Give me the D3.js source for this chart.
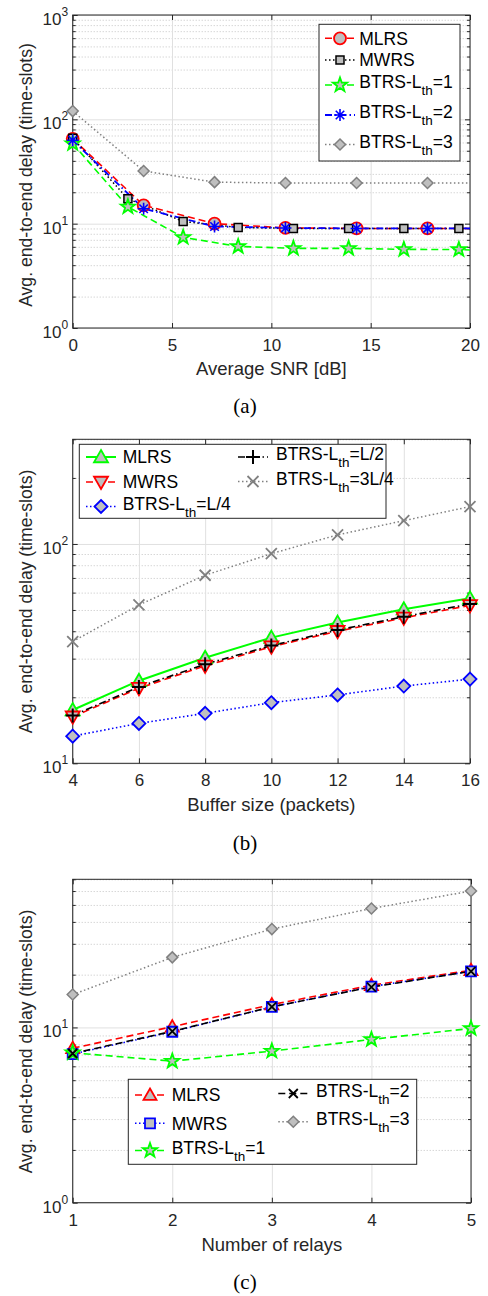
<!DOCTYPE html>
<html>
<head>
<meta charset="utf-8">
<script src="https://cdn.jsdelivr.net/npm/d3@7"></script>
<style>
  body { margin: 0; background: #fff; }
  svg { display: block; font-family: "Liberation Sans", Arial, sans-serif; }
</style>
</head>
<body>
<script>
// ---- data, panel (a): delay vs. average SNR
var snrCoarse = [0, 3.57, 7.14, 10.71, 14.29, 17.86, 20];
var snrFine = [0, 2.78, 5.56, 8.33, 11.11, 13.89, 16.67, 19.44, 20];
var aMLRS = [65, 15, 10, 9.1, 9.0, 9.0, 9.0];
var aMWRS = [66, 17.3, 10.5, 9.2, 9.0, 9.0, 9.0, 9.0, 9.0];
var aBTRS1 = [58.6, 14.5, 7.4, 6.05, 5.8, 5.8, 5.67, 5.65, 5.6];
var aBTRS2 = [63, 13.9, 9.4, 9.1, 9.0, 9.0, 9.0];
var aBTRS3 = [120, 32, 25, 24.5, 24.5, 24.5, 24.5];

// ---- data, panel (b): delay vs. buffer size
var bufSize = [4, 6, 8, 10, 12, 14, 16];
var bMLRS = [17.5, 23.8, 30.3, 37.4, 43.8, 50.4, 56.5];
var bMWRS = [16.3, 22.0, 27.8, 34.0, 40.0, 46.0, 52.5];
var bL4 = [13.3, 15.2, 16.9, 18.9, 20.5, 22.5, 24.2];
var bL2 = [16.5, 22.3, 28.3, 34.4, 40.5, 46.6, 53.3];
var b3L4 = [35.9, 52.7, 72, 90.3, 110, 127.7, 148];

// ---- data, panel (c): delay vs. number of relays
var relays = [1, 2, 3, 4, 5];
var cMLRS = [7.6, 10.1, 13.5, 17.4, 21.2];
var cMWRS = [7.05, 9.45, 13.1, 17.1, 20.9];
var cBTRS1 = [7.17, 6.42, 7.33, 8.54, 9.87];
var cBTRS2 = [7.1, 9.5, 13.1, 17.0, 20.9];
var cBTRS3 = [15.4, 25.1, 36.4, 47.7, 60];

var snrTicks = [0, 5, 10, 15, 20];
var bufTicks = [4, 6, 8, 10, 12, 14, 16];
var relayTicks = [1, 2, 3, 4, 5];

var yTitle = "Avg. end-to-end delay (time-slots)";

var FACE = "#bfbfbf";
var DASH = "7,4", DOT = "1.5,2.5", DASHDOT = "7,3,1.5,3";

var svg = d3.select("body").append("svg").attr("width", 488).attr("height", 1296);

function zip(xs, ys) { return xs.map(function(v, i) { return [v, ys[i]]; }); }

function markerPath(type, s) {
  var p = d3.path();
  if (type == "square") { p.rect(-s, -s, 2 * s, 2 * s); }
  else if (type == "diamond") { p.moveTo(0, -s); p.lineTo(s, 0); p.lineTo(0, s); p.lineTo(-s, 0); p.closePath(); }
  else if (type == "triUp") { p.moveTo(0, -s); p.lineTo(s, s * 0.75); p.lineTo(-s, s * 0.75); p.closePath(); }
  else if (type == "triDown") { p.moveTo(0, s); p.lineTo(s, -s * 0.75); p.lineTo(-s, -s * 0.75); p.closePath(); }
  else if (type == "star") {
    for (var i = 0; i < 10; i++) {
      var a = -Math.PI / 2 + i * Math.PI / 5, r = i % 2 ? s * 0.4 : s;
      if (i == 0) p.moveTo(r * Math.cos(a), r * Math.sin(a)); else p.lineTo(r * Math.cos(a), r * Math.sin(a));
    }
    p.closePath();
  }
  else if (type == "plus") { p.moveTo(-s, 0); p.lineTo(s, 0); p.moveTo(0, -s); p.lineTo(0, s); }
  else if (type == "cross") { p.moveTo(-s, -s); p.lineTo(s, s); p.moveTo(-s, s); p.lineTo(s, -s); }
  else if (type == "asterisk") {
    var d = s * 0.7071;
    p.moveTo(-s, 0); p.lineTo(s, 0); p.moveTo(0, -s); p.lineTo(0, s);
    p.moveTo(-d, -d); p.lineTo(d, d); p.moveTo(-d, d); p.lineTo(d, -d);
  }
  return p.toString();
}

function drawMarker(g, s, cx, cy) {
  if (s.marker == "circle") {
    g.append("circle").attr("cx", cx).attr("cy", cy).attr("r", s.size)
      .attr("fill", FACE).attr("stroke", s.color).attr("stroke-width", s.mw);
    return;
  }
  var open = s.marker == "plus" || s.marker == "cross" || s.marker == "asterisk";
  g.append("path").attr("transform", "translate(" + cx + "," + cy + ")")
    .attr("d", markerPath(s.marker, s.size))
    .attr("fill", open ? "none" : FACE)
    .attr("stroke", s.color).attr("stroke-width", s.mw);
}

function addLabel(sel, label, size) {
  // "BTRS-L_th=1" -> BTRS-L, subscript th, =1
  var parts = label.split("_th");
  sel.append("tspan").text(parts[0]);
  if (parts.length > 1) {
    sel.append("tspan").attr("dy", 7).attr("font-size", 13.5).text("th");
    sel.append("tspan").attr("dy", -7).attr("font-size", size).text(parts[1]);
  }
}

function drawPanel(p) {
  var x = d3.scaleLinear().domain(p.xDomain).range([p.left, p.right]);
  var y = d3.scaleLog().domain(p.yDomain).range([p.bottom, p.top]);
  var h = p.bottom - p.top, w = p.right - p.left;
  var g = svg.append("g");

  var lo = Math.floor(Math.log10(p.yDomain[0])), hi = Math.ceil(Math.log10(p.yDomain[1]));
  var major = [], minor = [];
  for (var e = lo; e <= hi; e++) {
    var d = Math.pow(10, e);
    if (d >= p.yDomain[0] && d <= p.yDomain[1]) major.push(d);
    for (var k = 2; k <= 9; k++) {
      if (k * d > p.yDomain[0] && k * d <= p.yDomain[1] + 1e-9) minor.push(k * d);
    }
  }

  // grid
  var gMinor = g.append("g").attr("transform", "translate(" + p.left + ",0)")
    .call(d3.axisLeft(y).tickValues(minor).tickSize(-w).tickFormat(""));
  gMinor.selectAll("line").attr("stroke", "#c4c4c4").attr("stroke-dasharray", "1,2");
  var gMajY = g.append("g").attr("transform", "translate(" + p.left + ",0)")
    .call(d3.axisLeft(y).tickValues(major).tickSize(-w).tickFormat(""));
  gMajY.selectAll("line").attr("stroke", "#e0e0e0");
  var gMajX = g.append("g").attr("transform", "translate(0," + p.bottom + ")")
    .call(d3.axisBottom(x).tickValues(p.xTicks).tickSize(-h).tickFormat(""));
  gMajX.selectAll("line").attr("stroke", "#e0e0e0");
  g.selectAll(".domain").remove();

  // box
  g.append("rect").attr("x", p.left).attr("y", p.top).attr("width", w).attr("height", h)
    .attr("fill", "none").attr("stroke", "#262626").attr("stroke-width", 1);

  // ticks (inside)
  var tickAxes = [
    [d3.axisBottom(x).tickValues(p.xTicks).tickSize(-5).tickPadding(11).tickFormat(d3.format("d")), "translate(0," + p.bottom + ")", true],
    [d3.axisTop(x).tickValues(p.xTicks).tickSize(-5).tickFormat(""), "translate(0," + p.top + ")", false],
    [d3.axisLeft(y).tickValues(major).tickSize(-5).tickFormat(""), "translate(" + p.left + ",0)", false],
    [d3.axisRight(y).tickValues(major).tickSize(-5).tickFormat(""), "translate(" + p.right + ",0)", false],
    [d3.axisLeft(y).tickValues(minor).tickSize(-3).tickFormat(""), "translate(" + p.left + ",0)", false],
    [d3.axisRight(y).tickValues(minor).tickSize(-3).tickFormat(""), "translate(" + p.right + ",0)", false]
  ];
  tickAxes.forEach(function(t) {
    var a = g.append("g").attr("transform", t[1]).call(t[0].tickSizeOuter(0));
    a.select(".domain").remove();
    a.selectAll("line").attr("stroke", "#262626");
    if (t[2]) a.selectAll("text").attr("font-size", 17).attr("font-family", "Liberation Sans, Arial, sans-serif").attr("fill", "#262626");
  });

  // y tick labels 10^n
  major.forEach(function(v) {
    var t = g.append("text").attr("x", p.left - 4.5).attr("y", y(v) + 10)
      .attr("text-anchor", "end").attr("font-size", 17).attr("fill", "#262626");
    t.append("tspan").text("10");
    t.append("tspan").attr("dy", -9).attr("font-size", 12).text(Math.round(Math.log10(v)));
  });

  // series
  var line = d3.line().x(function(d) { return x(d[0]); }).y(function(d) { return y(d[1]); });
  p.series.forEach(function(s) {
    g.append("path").datum(s.data).attr("d", line).attr("fill", "none")
      .attr("stroke", s.color).attr("stroke-width", s.lw).attr("stroke-dasharray", s.dash || null);
  });
  p.series.forEach(function(s) {
    s.data.forEach(function(d) {
      if (p.noMarkAt != null && d[0] == p.noMarkAt) return;
      drawMarker(g, s, x(d[0]), y(d[1]));
    });
  });

  // axis titles and caption
  g.append("text").attr("x", (p.left + p.right) / 2).attr("y", p.xTitleY).attr("text-anchor", "middle")
    .attr("font-size", 18.5).attr("fill", "#262626").text(p.xTitle);
  g.append("text").attr("transform", "translate(31.5," + p.yTitleCY + ") rotate(-90)")
    .attr("text-anchor", "middle").attr("font-size", 17.6).attr("fill", "#262626").text(yTitle);
  g.append("text").attr("x", 245).attr("y", p.captionY).attr("text-anchor", "middle")
    .attr("font-family", "Liberation Serif, Times New Roman, serif").attr("font-size", 21).text(p.caption);

  // legend
  var L = p.legend;
  g.append("rect").attr("x", L.box[0]).attr("y", L.box[1]).attr("width", L.box[2] - L.box[0])
    .attr("height", L.box[3] - L.box[1]).attr("fill", "#fff").attr("stroke", "#262626").attr("stroke-width", 1);
  L.cols.forEach(function(c) {
    c.items.forEach(function(idx, r) {
      var s = p.series[idx], ry = c.rows[r];
      var sub = s.label.indexOf("_th") >= 0;
      g.append("line").attr("x1", c.sx[0]).attr("x2", c.sx[1]).attr("y1", ry).attr("y2", ry)
        .attr("stroke", s.color).attr("stroke-width", s.lw).attr("stroke-dasharray", s.dash || null);
      drawMarker(g, s, (c.sx[0] + c.sx[1]) / 2, ry);
      var t = g.append("text").attr("x", c.tx).attr("y", ry - (sub ? 3 : 0) + 6.3)
        .attr("font-size", 17.5).attr("fill", "#000");
      addLabel(t, s.label, 17.5);
    });
  });
}

drawPanel({
  left: 72.7, right: 470, top: 15, bottom: 328,
  xDomain: [0, 20], yDomain: [1, 1000], xTicks: snrTicks, noMarkAt: 20,
  xTitle: "Average SNR [dB]", xTitleY: 375, yTitleCY: 175, caption: "(a)", captionY: 413,
  series: [
    { label: "MLRS", data: zip(snrCoarse, aMLRS), color: "#ff0000", lw: 1.6, dash: DASH, marker: "circle", size: 6, mw: 1.8 },
    { label: "MWRS", data: zip(snrFine, aMWRS), color: "#000000", lw: 1.5, dash: DOT, marker: "square", size: 4, mw: 1.5 },
    { label: "BTRS-L_th=1", data: zip(snrFine, aBTRS1), color: "#00ff00", lw: 1.6, dash: DASH, marker: "star", size: 7.5, mw: 1.8 },
    { label: "BTRS-L_th=2", data: zip(snrCoarse, aBTRS2), color: "#0000ff", lw: 1.8, dash: DASHDOT, marker: "asterisk", size: 6, mw: 1.6 },
    { label: "BTRS-L_th=3", data: zip(snrCoarse, aBTRS3), color: "#808080", lw: 1.5, dash: DOT, marker: "diamond", size: 5.5, mw: 1.5 }
  ],
  legend: { box: [319, 24.3, 460, 161],
    cols: [{ sx: [325, 355], tx: 359.3, rows: [38.3, 60, 85, 115, 144.5], items: [0, 1, 2, 3, 4] }] }
});

drawPanel({
  left: 72.7, right: 470, top: 439.3, bottom: 763.3,
  xDomain: [4, 16], yDomain: [10, 300], xTicks: bufTicks,
  xTitle: "Buffer size (packets)", xTitleY: 810.7, yTitleCY: 601.5, caption: "(b)", captionY: 849.5,
  series: [
    { label: "MLRS", data: zip(bufSize, bMLRS), color: "#00ff00", lw: 2, dash: null, marker: "triUp", size: 7, mw: 1.8 },
    { label: "MWRS", data: zip(bufSize, bMWRS), color: "#ff0000", lw: 1.6, dash: DASH, marker: "triDown", size: 7, mw: 1.8 },
    { label: "BTRS-L_th=L/4", data: zip(bufSize, bL4), color: "#0000ff", lw: 1.6, dash: DOT, marker: "diamond", size: 6.5, mw: 1.8 },
    { label: "BTRS-L_th=L/2", data: zip(bufSize, bL2), color: "#000000", lw: 1.6, dash: DASHDOT, marker: "plus", size: 7, mw: 2 },
    { label: "BTRS-L_th=3L/4", data: zip(bufSize, b3L4), color: "#808080", lw: 1.5, dash: DOT, marker: "cross", size: 5.5, mw: 1.8 }
  ],
  legend: { box: [79.3, 444.3, 386, 518.3],
    cols: [{ sx: [86, 116], tx: 122.7, rows: [457, 482, 506.5], items: [0, 1, 2] },
           { sx: [238, 268], tx: 276, rows: [457, 481.5], items: [3, 4] }] }
});

drawPanel({
  left: 72.7, right: 471, top: 879.3, bottom: 1202.7,
  xDomain: [1, 5], yDomain: [1, 70], xTicks: relayTicks,
  xTitle: "Number of relays", xTitleY: 1250.7, yTitleCY: 1041.5, caption: "(c)", captionY: 1289,
  series: [
    { label: "MLRS", data: zip(relays, cMLRS), color: "#ff0000", lw: 1.6, dash: DASH, marker: "triUp", size: 6.5, mw: 1.8 },
    { label: "MWRS", data: zip(relays, cMWRS), color: "#0000ff", lw: 1.6, dash: DOT, marker: "square", size: 5, mw: 1.8 },
    { label: "BTRS-L_th=1", data: zip(relays, cBTRS1), color: "#00ff00", lw: 1.6, dash: DASH, marker: "star", size: 7.5, mw: 1.8 },
    { label: "BTRS-L_th=2", data: zip(relays, cBTRS2), color: "#000000", lw: 1.6, dash: DASH, marker: "cross", size: 4.5, mw: 1.8 },
    { label: "BTRS-L_th=3", data: zip(relays, cBTRS3), color: "#808080", lw: 1.5, dash: DOT, marker: "diamond", size: 5.5, mw: 1.5 }
  ],
  legend: { box: [128.3, 1079.3, 416.7, 1164.3],
    cols: [{ sx: [135, 165], tx: 171.7, rows: [1095, 1123.3, 1150.5], items: [0, 1, 2] },
           { sx: [278.3, 308.3], tx: 316, rows: [1093.5, 1121.7], items: [3, 4] }] }
});
</script>
</body>
</html>
